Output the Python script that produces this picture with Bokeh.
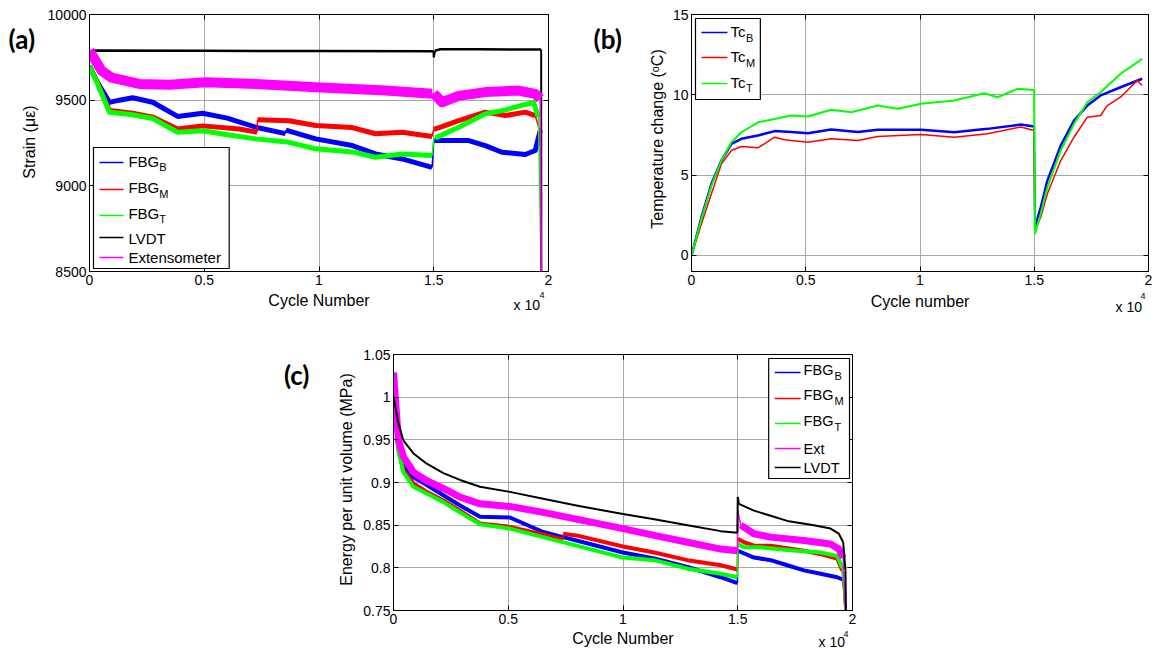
from bokeh.plotting import figure
from bokeh.models import (Label, BoxAnnotation, Arrow, FixedTicker, Range1d,
                          CustomJSTickFormatter, LinearAxis)
from bokeh.layouts import column, row
from bokeh.embed import file_html
from bokeh.resources import INLINE

# ---------------- data (a) strain ----------------
a_fbgb_x = [0, 300, 870, 1300, 1884, 2754, 3841, 4928, 6000, 7246, 8540, 8560, 9855, 11449, 12464, 13623, 14928, 15000, 16522, 17246, 17971, 18986, 19420, 19638, 19690]
a_fbgb_y = [9700, 9615, 9487, 9500, 9514, 9488, 9405, 9424, 9395, 9342, 9305, 9325, 9274, 9235, 9186, 9157, 9108, 9264, 9264, 9235, 9196, 9183, 9206, 9323, 8400]
a_fbgm_x = [0, 300, 870, 1884, 2754, 3841, 4928, 6522, 7300, 7320, 8700, 9855, 11449, 12464, 13623, 14928, 15000, 15362, 16087, 17246, 18116, 18986, 19420, 19565, 19660, 19690]
a_fbgm_y = [9700, 9615, 9440, 9424, 9401, 9332, 9350, 9332, 9313, 9385, 9380, 9352, 9340, 9304, 9313, 9288, 9330, 9346, 9381, 9430, 9410, 9430, 9410, 9346, 9300, 8400]
a_fbgt_x = [0, 300, 870, 1884, 2754, 3841, 4928, 5942, 7246, 8700, 9855, 11449, 12464, 13623, 14928, 15000, 15072, 16087, 17246, 18116, 18986, 19348, 19565, 19690]
a_fbgt_y = [9700, 9610, 9430, 9415, 9393, 9313, 9322, 9300, 9274, 9254, 9216, 9198, 9167, 9186, 9177, 9270, 9280, 9342, 9420, 9443, 9475, 9486, 9400, 8400]
a_lvdt_x = [0, 200, 5000, 10000, 14990, 15000, 15060, 15300, 17000, 19000, 19680, 19690]
a_lvdt_y = [9775, 9790, 9788, 9787, 9785, 9750, 9790, 9797, 9797, 9796, 9796, 8400]
a_ext_x = [0, 520, 960, 2170, 3478, 5072, 7246, 9855, 12899, 14927, 15000, 15362, 16087, 17246, 18696, 19420, 19638, 19690]
a_ext_y = [9790, 9673, 9632, 9595, 9590, 9605, 9595, 9576, 9556, 9537, 9540, 9488, 9525, 9547, 9556, 9537, 9508, 8400]

# ---------------- data (b) temperature ----------------
b_tcb_x = [0, 437, 873, 1310, 1747, 2183, 2911, 3639, 4367, 5095, 6113, 7278, 8151, 10044, 11500, 12955, 14410, 14993, 15030, 15284, 15575, 16158, 16740, 17322, 17904, 18777, 19724]
b_tcb_y = [0, 2.38, 4.46, 5.91, 6.95, 7.26, 7.47, 7.74, 7.68, 7.61, 7.84, 7.68, 7.82, 7.82, 7.67, 7.88, 8.15, 8.03, 1.76, 3.0, 4.66, 6.84, 8.40, 9.33, 9.96, 10.47, 11.0]
b_tcm_x = [0, 437, 873, 1310, 1747, 2183, 2911, 3639, 4076, 4367, 5095, 6113, 7278, 8151, 10044, 11500, 12955, 14410, 14993, 15030, 15284, 15575, 16158, 16740, 17322, 17904, 18195, 18777, 19506, 19724]
b_tcm_y = [0, 1.97, 3.84, 5.70, 6.53, 6.78, 6.70, 7.36, 7.20, 7.15, 7.05, 7.26, 7.15, 7.40, 7.53, 7.36, 7.57, 8.0, 7.78, 1.55, 2.38, 3.84, 5.91, 7.36, 8.61, 8.71, 9.33, 9.85, 10.89, 10.58]
b_tct_x = [0, 437, 873, 1310, 1747, 2183, 2911, 3639, 4367, 5095, 6113, 6987, 8151, 9025, 10044, 11500, 12810, 13392, 14265, 14993, 15030, 15284, 15575, 16158, 16740, 17322, 17904, 18777, 19724]
b_tct_y = [0, 2.28, 4.35, 5.91, 7.05, 7.67, 8.29, 8.50, 8.71, 8.65, 9.07, 8.92, 9.33, 9.13, 9.44, 9.65, 10.10, 9.85, 10.37, 10.3, 1.34, 2.59, 4.25, 6.53, 8.19, 9.54, 10.16, 11.31, 12.24]

# ---------------- data (c) energy ----------------
c_fbgb_x = [0, 217, 435, 870, 1449, 2174, 2898, 3768, 5072, 6521, 7390, 7970, 9998, 11362, 12811, 14260, 14985, 15000, 15709, 16434, 17158, 17883, 18608, 19332, 19593, 19700]
c_fbgb_y = [1.0, 0.941, 0.920, 0.906, 0.897, 0.885, 0.873, 0.860, 0.859, 0.842, 0.836, 0.832, 0.818, 0.811, 0.801, 0.789, 0.782, 0.820, 0.812, 0.809, 0.803, 0.797, 0.793, 0.789, 0.786, 0.74]
c_fbgm_x = [0, 217, 435, 870, 1449, 2174, 2898, 3768, 5072, 6521, 7380, 7400, 7970, 9998, 11362, 12811, 14260, 14985, 15000, 15275, 15709, 16434, 17883, 18608, 19332, 19550, 19700]
c_fbgm_y = [1.0, 0.938, 0.914, 0.899, 0.889, 0.879, 0.867, 0.852, 0.848, 0.839, 0.833, 0.840, 0.838, 0.825, 0.818, 0.809, 0.803, 0.798, 0.834, 0.830, 0.826, 0.826, 0.820, 0.816, 0.811, 0.797, 0.74]
c_fbgt_x = [0, 217, 435, 870, 1449, 2174, 2898, 3768, 5072, 6521, 7970, 9998, 11362, 12811, 14260, 14985, 15000, 15275, 15999, 17158, 18608, 19332, 19550, 19700]
c_fbgt_y = [1.0, 0.936, 0.912, 0.895, 0.887, 0.877, 0.865, 0.851, 0.846, 0.836, 0.826, 0.812, 0.809, 0.799, 0.793, 0.789, 0.828, 0.824, 0.824, 0.821, 0.818, 0.814, 0.800, 0.74]
c_ext_x = [0, 217, 435, 870, 1449, 2174, 2898, 3768, 5072, 6521, 7970, 9998, 11362, 12811, 14260, 14985, 15000, 15130, 15709, 16434, 17883, 19042, 19404, 19593, 19700]
c_ext_y = [1.029, 0.949, 0.930, 0.912, 0.902, 0.893, 0.883, 0.875, 0.872, 0.865, 0.857, 0.846, 0.838, 0.830, 0.822, 0.820, 0.867, 0.850, 0.840, 0.836, 0.832, 0.828, 0.822, 0.812, 0.74]
c_lvdt_x = [0, 217, 435, 870, 1449, 2174, 2898, 3768, 5072, 6521, 7970, 9998, 11362, 12811, 14260, 14985, 15000, 15050, 15709, 16434, 17158, 18318, 19042, 19404, 19593, 19694, 19720]
c_lvdt_y = [1.0, 0.969, 0.949, 0.934, 0.922, 0.911, 0.903, 0.895, 0.889, 0.881, 0.873, 0.863, 0.857, 0.850, 0.843, 0.841, 0.883, 0.875, 0.867, 0.861, 0.855, 0.850, 0.846, 0.840, 0.830, 0.797, 0.74]

x_ticks = [0, 5000, 10000, 15000, 20000]
a_yticks = [8500, 9000, 9500, 10000]
b_yticks = [0, 5, 10, 15]
c_yticks = [0.75, 0.8, 0.85, 0.9, 0.95, 1.0, 1.05]

FONT = "Liberation Sans"
BOLD_FONT = "Lato"
GRID = "#a8a8a8"
BLUE, RED, GREEN, BLACK, MAGENTA = "#0000ff", "#ff0000", "#00ff00", "#000000", "#ff00ff"


class Mapper:
    """page pixel -> data coordinates for a frame"""
    def __init__(self, fl, ft, fr, fb, xr, yr):
        self.fl, self.ft, self.fr, self.fb = fl, ft, fr, fb
        self.xr, self.yr = xr, yr

    def x(self, X):
        return self.xr[0] + (X - self.fl) / (self.fr - self.fl) * (self.xr[1] - self.xr[0])

    def y(self, Y):
        return self.yr[1] - (Y - self.ft) / (self.fb - self.ft) * (self.yr[1] - self.yr[0])


def style_axis(ax, blank=False):
    ax.major_tick_in = 5
    ax.major_tick_out = 0
    ax.minor_tick_in = 0
    ax.minor_tick_out = 0
    ax.axis_line_color = "black"
    ax.major_tick_line_color = "black"
    ax.major_label_text_font = FONT
    ax.major_label_text_font_size = "14px"
    ax.major_label_text_color = "black"
    ax.major_label_standoff = 3
    if blank:
        ax.formatter = CustomJSTickFormatter(code="return '';")
        ax.major_label_standoff = 0


def make_fig(width, height, xr, yr, yticks, borders):
    l, r, t, b = borders
    p = figure(width=width, height=height, x_range=Range1d(*xr), y_range=Range1d(*yr),
               min_border_left=l, min_border_right=r, min_border_top=t, min_border_bottom=b,
               output_backend="svg", toolbar_location=None)
    p.outline_line_color = "black"
    p.outline_line_width = 1
    p.outline_line_alpha = 1
    p.background_fill_color = "white"
    p.border_fill_color = "white"
    style_axis(p.xaxis[0])
    style_axis(p.yaxis[0])
    p.xaxis[0].ticker = FixedTicker(ticks=x_ticks)
    p.xaxis[0].formatter = CustomJSTickFormatter(code="return String(tick/10000);")
    p.yaxis[0].ticker = FixedTicker(ticks=yticks)
    p.yaxis[0].formatter = CustomJSTickFormatter(code="return String(Math.round(tick*100)/100);")
    top = LinearAxis(ticker=FixedTicker(ticks=x_ticks))
    style_axis(top, blank=True)
    right = LinearAxis(ticker=FixedTicker(ticks=yticks))
    style_axis(right, blank=True)
    p.add_layout(top, "above")
    p.add_layout(right, "right")
    p.xgrid[0].ticker = FixedTicker(ticks=x_ticks)
    p.ygrid[0].ticker = FixedTicker(ticks=yticks)
    for g in (p.xgrid[0], p.ygrid[0]):
        g.grid_line_color = GRID
        g.grid_line_width = 1
        g.grid_line_alpha = 1
    return p


def strip(page_l, page_t, w, h, frame_l=None, frame_r=None):
    # a text-only figure; inside a column its frame is aligned with the plot above it
    p = figure(width=w, height=h, x_range=Range1d(0, w), y_range=Range1d(0, h),
               x_axis_type=None, y_axis_type=None, min_border_left=0, min_border_right=0,
               min_border_top=0, min_border_bottom=0, output_backend="svg", toolbar_location=None)
    p.outline_line_color = None
    p.background_fill_color = "white"
    p.border_fill_color = "white"
    fl = page_l if frame_l is None else frame_l
    fr = page_l + w if frame_r is None else frame_r
    return p, Mapper(fl, page_t, fr, page_t + h, (0, w), (0, h))


def text(p, m, X, Y, s, size, font=FONT, bold=False, align="left", angle=0):
    p.add_layout(Label(x=m.x(X), y=m.y(Y), text=s, text_font=font, text_font_size=f"{size}px",
                       text_font_style="bold" if bold else "normal", text_color="black",
                       text_align=align, text_baseline="middle", angle=angle, angle_units="deg"))


def draw_series(p, xs, ys, color, width, thin=1.5):
    # thick band for the noisy trace, thin strokes for the vertical jumps
    start = 0
    for i in range(len(xs) - 1):
        if xs[i + 1] - xs[i] <= 150:
            if i > start:
                p.line(xs[start:i + 1], ys[start:i + 1], line_color=color, line_width=width, line_join="round")
            p.line(xs[i:i + 2], ys[i:i + 2], line_color=color, line_width=thin)
            start = i + 1
    if start < len(xs) - 1:
        p.line(xs[start:], ys[start:], line_color=color, line_width=width, line_join="round")


def legend(p, m, box, entries, line_x, text_x, size, sub_size):
    l, t, r, b = box
    p.add_layout(BoxAnnotation(left=m.x(l), right=m.x(r), top=m.y(t), bottom=m.y(b),
                               fill_color="white", fill_alpha=1, line_color="black",
                               line_width=1.2, line_alpha=1))
    for main, sub, color, ly, cy, sub_x in entries:
        p.add_layout(Arrow(end=None, x_start=m.x(line_x[0]), y_start=m.y(ly),
                           x_end=m.x(line_x[1]), y_end=m.y(ly), line_color=color, line_width=1.5))
        text(p, m, text_x, cy, main, size)
        if sub:
            text(p, m, sub_x, cy + 6, sub, sub_size)


def x10(p, m, X, cy, sup_dx, sup_cy):
    text(p, m, X, cy, "x 10", 14)
    text(p, m, X + sup_dx, sup_cy, "4", 9)


# ---------------- panel (a) ----------------
a_xr, a_yr = (0, 20000), (8500, 10000)
fa = make_fig(536, 290, a_xr, a_yr, a_yticks, (44, 32, 14, 19))
ma = Mapper(88, 14, 548, 271, a_xr, a_yr)
draw_series(fa, a_fbgb_x, a_fbgb_y, BLUE, 5)
draw_series(fa, a_fbgm_x, a_fbgm_y, RED, 5)
draw_series(fa, a_fbgt_x, a_fbgt_y, GREEN, 5)
draw_series(fa, a_lvdt_x, a_lvdt_y, BLACK, 2.5, thin=2)
draw_series(fa, a_ext_x, a_ext_y, MAGENTA, 10)
legend(fa, ma, (92, 147, 228, 268),
       [("FBG", "B", BLUE, 162, 160.5, 158), ("FBG", "M", RED, 189, 187, 158),
        ("FBG", "T", GREEN, 215, 212.5, 158), ("LVDT", "", BLACK, 237, 237.5, 0),
        ("Extensometer", "", MAGENTA, 257, 256.5, 0)],
       (98, 122), 127, 15, 11)

la, mla = strip(0, 0, 44, 318)
text(la, mla, 8, 38, "(a)", 26, font=BOLD_FONT, bold=True)
text(la, mla, 29, 141.5, "Strain (\u03bc\u03b5)", 16, align="center", angle=90)

xa, mxa = strip(44, 290, 536, 28, frame_l=88, frame_r=548)
text(xa, mxa, 318, 300, "Cycle Number", 16, align="center")
x10(xa, mxa, 513, 304, 26, 294)

# ---------------- panel (b) ----------------
b_xr, b_yr = (0, 20000), (-1, 15)
fb = make_fig(488, 290, b_xr, b_yr, b_yticks, (21, 9, 14, 19))
mb = Mapper(690, 14, 1148, 271, b_xr, b_yr)
draw_series(fb, b_tcb_x, b_tcb_y, BLUE, 2.5, thin=2)
draw_series(fb, b_tcm_x, b_tcm_y, RED, 1.5)
draw_series(fb, b_tct_x, b_tct_y, GREEN, 2, thin=2)
legend(fb, mb, (694, 18, 759, 99),
       [("Tc", "B", BLUE, 32, 31, 744.5), ("Tc", "M", RED, 57, 56, 744.5), ("Tc", "T", GREEN, 83, 81.5, 744.5)],
       (700, 726), 729, 15, 11)

lb, mlb = strip(580, 0, 89, 318)
text(lb, mlb, 593, 38, "(b)", 26, font=BOLD_FONT, bold=True)
text(lb, mlb, 657, 138.5, "Temperature change (\u1d52C)", 16, align="center", angle=90)

xb, mxb = strip(669, 290, 488, 28, frame_l=690, frame_r=1148)
text(xb, mxb, 919, 301, "Cycle number", 16, align="center")
x10(xb, mxb, 1115, 306, 25, 295)

# ---------------- panel (c) ----------------
c_xr, c_yr = (0, 20000), (0.75, 1.05)
fc = make_fig(500, 311, c_xr, c_yr, c_yticks, (32, 8, 36, 19))
mc = Mapper(392, 354, 852, 610, c_xr, c_yr)
draw_series(fc, c_fbgb_x, c_fbgb_y, BLUE, 4)
draw_series(fc, c_fbgm_x, c_fbgm_y, RED, 4)
draw_series(fc, c_fbgt_x, c_fbgt_y, GREEN, 4)
draw_series(fc, c_ext_x, c_ext_y, MAGENTA, 7)
draw_series(fc, c_lvdt_x, c_lvdt_y, BLACK, 2, thin=2)
legend(fc, mc, (768, 358, 849, 478),
       [("FBG", "B", BLUE, 372, 369, 834), ("FBG", "M", RED, 398, 394.5, 834),
        ("FBG", "T", GREEN, 423, 420, 834), ("Ext", "", MAGENTA, 448, 448.5, 0),
        ("LVDT", "", BLACK, 467, 467.5, 0)],
       (774, 800), 803, 14.5, 11)

lc, mlc = strip(0, 318, 360, 337)
text(lc, mlc, 309, 374, "(c)", 26, font=BOLD_FONT, bold=True, align="right")
text(lc, mlc, 345.5, 479, "Energy per unit volume (MPa)", 16, align="center", angle=90)

xc, mxc = strip(360, 629, 500, 26, frame_l=392, frame_r=852)
text(xc, mxc, 622, 638, "Cycle Number", 16, align="center")
x10(xc, mxc, 818, 641, 25, 633)

layout = column(
    row(la, column(fa, xa), lb, column(fb, xb)),
    row(lc, column(fc, xc)),
)
open("out.html", "w").write(file_html(layout, INLINE))
